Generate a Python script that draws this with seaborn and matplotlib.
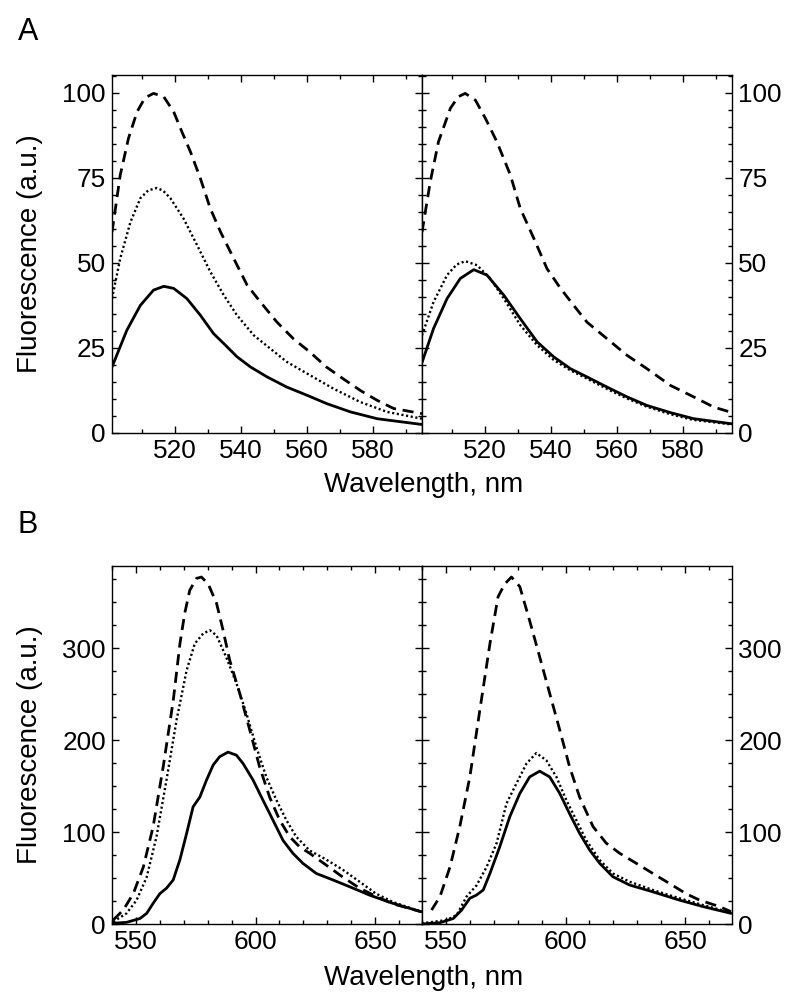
import numpy as np
import pandas as pd
import matplotlib
matplotlib.use("Agg")
import matplotlib.pyplot as plt
import seaborn as sns
from matplotlib.ticker import MultipleLocator

# ---------------- Data ----------------
# Panel A, left
a_left_dash_x = [501, 503.5, 506, 508.6, 511, 513.6, 516.7, 519.7, 522.2, 524.8, 527.8, 530.8, 533.9, 537.9,
                 542, 546, 551, 556, 561, 566, 571, 576.3, 581.4, 586.4, 595]
a_left_dash_y = [59, 75.8, 86.6, 94.4, 98.5, 99.8, 98.8, 94.4, 88.5, 82.6, 74.8, 66, 59.1, 51.3,
                 43.4, 38.5, 32.6, 27.7, 23.8, 19.4, 16, 12.5, 9.6, 7.2, 5.7]
a_left_dot_x = [501, 503.5, 506.6, 509.6, 512, 514.6, 516.5, 518.7, 522.7, 526.8, 530.8, 534.9, 538.9, 544,
                549, 554, 561, 568.2, 576.3, 584.4, 595]
a_left_dot_y = [39.5, 51.3, 62, 69, 71.3, 72, 71.2, 69, 63, 55.2, 47.4, 40.5, 34.6, 28.7,
                24.8, 20.9, 17, 13, 9.1, 6.2, 4.2]
a_left_solid_x = [501, 505.5, 509.6, 513.6, 516.7, 519.7, 523.7, 527.8, 531.8, 535.4, 538.9, 543, 548,
                  554, 560.1, 566.2, 573.3, 581.4, 595]
a_left_solid_y = [19.4, 30.2, 37.5, 42, 43.1, 42.5, 39.5, 34.6, 29.2, 25.8, 22.4, 19.4, 16.5,
                  13.5, 11.1, 8.6, 6.2, 4.2, 2.5]

# Panel A, right
a_right_dash_x = [501, 503.5, 506, 509.6, 512, 514.1, 517.2, 520.2, 523.7, 527.8, 530.8, 534.9, 538.9, 543,
                  547, 551, 557.1, 563.2, 569.2, 576.3, 583.4, 589.5, 595]
a_right_dash_y = [59, 73.8, 85.6, 95.4, 98.8, 99.8, 97.8, 92.5, 85.6, 75.8, 66, 57.2, 48.3, 42.5,
                  37.5, 32.6, 27.7, 22.8, 18.9, 14, 10.6, 7.6, 6]
a_right_dot_x = [501, 504.5, 508.6, 511.5, 514.1, 517.7, 521.7, 525.8, 530.8, 535.9, 540.9, 546, 551,
                 557, 563, 569, 576, 583, 595]
a_right_dot_y = [28.7, 38.5, 46.4, 49.5, 50.5, 49.3, 45.4, 39.5, 31.7, 25.8, 21.5, 18.4, 16,
                 13, 10.2, 7.8, 5.6, 3.9, 2.5]
a_right_solid_x = [501, 504.5, 508.6, 512.6, 516.7, 520.7, 525.8, 530.8, 535.9, 540.9, 546, 551, 557.1,
                   563.2, 569.2, 576.3, 583.4, 595]
a_right_solid_y = [20.7, 30.7, 39.5, 45.4, 48, 46.4, 40.5, 33.6, 26.8, 22.4, 18.9, 16.5, 13.5,
                   10.6, 8.1, 6, 4.2, 2.7]

# Panel B, left
b_left_dash_x = [540.5, 544.7, 548.9, 553.1, 557.2, 561.4, 565.6, 568.4, 570.4, 572.5, 575.3, 577.4, 580.2,
                 583.7, 586.4, 589.2, 593.4, 597.6, 601.7, 605.9, 610.1, 614.3, 618.4, 622.6, 629.6,
                 636.5, 643.5, 650.4, 657.4, 669.2]
b_left_dash_y = [4.3, 15.2, 33, 62, 106, 171, 243, 305, 338, 363, 376, 377.5, 370,
                 349, 320, 287, 251, 211, 171, 138, 113, 95, 84, 77, 64,
                 51, 39, 30, 22, 13.4]
b_left_dot_x = [540.5, 546.1, 550.3, 554.5, 558.6, 562.8, 567, 571.2, 574.6, 578.1, 580.9, 583.7, 587.8,
                592, 596.2, 600.3, 604.5, 608.7, 612.9, 617, 622.6, 629.6, 636.5, 643.5, 650.4,
                657.4, 669.2]
b_left_dot_y = [2.5, 11.6, 26, 51, 95, 157, 222, 276, 305, 316, 319.6, 314, 290,
                262, 229, 193, 160, 135, 113, 95, 80, 70, 59, 46, 33,
                24, 13.4]
b_left_solid_x = [539.8, 546.1, 551.7, 554.5, 557.2, 560, 562.8, 565.6, 568.4, 571.2, 573.9, 576.7, 579.5,
                  582.3, 585, 588.5, 592, 594.8, 599, 603.1, 607.3, 611.5, 615.6, 619.8, 625.4,
                  632.3, 639.3, 647.6, 657.4, 669.2]
b_left_solid_y = [0.7, 1.8, 6, 11.6, 22.5, 33, 39, 48, 70, 98.6, 127.5, 138, 156.5,
                  173, 182, 187, 183.7, 174.6, 156.5, 134.8, 113, 91, 77, 66, 55,
                  48, 40.6, 31.5, 22.5, 13.4]

# Panel B, right
b_right_dash_x = [544, 547.5, 551.7, 555.8, 560, 564.2, 568.4, 571.8, 574.6, 577.4, 580.9, 585, 589.2,
                  593.4, 597.6, 601.7, 605.9, 611.5, 617, 622.6, 629.6, 636.5, 643.5, 650.4, 656,
                  664.3, 669.2]
b_right_dash_y = [15.2, 29.7, 62, 106, 160, 233, 305, 356, 370, 377.5, 367, 330, 290.6,
                  250.7, 211, 171, 138, 106, 88, 77, 66, 55, 44, 33, 26,
                  19, 13.4]
b_right_dot_x = [539.8, 550.3, 554.5, 558.6, 562.8, 567, 571.2, 575.3, 579.5, 583.7, 587.8, 592, 596.2,
                 600.3, 604.5, 608.7, 614.3, 619.8, 626.8, 636.5, 647.6, 657.4, 669.2]
b_right_dot_y = [0.7, 4.3, 9.8, 29.7, 42, 62, 88, 131, 153, 174.6, 186, 178, 160,
                 135, 113, 91, 69.6, 55, 46, 37, 28, 20.7, 12.3]
b_right_solid_x = [539.8, 547.5, 553.1, 556.5, 560, 562.8, 565.6, 568.4, 572.5, 576.7, 580.9, 585, 589.2,
                   593.4, 597.6, 601.7, 605.9, 610.1, 614.3, 619.8, 626.8, 636.5, 647.6, 657.4, 669.2]
b_right_solid_y = [0, 1.4, 6, 15, 28, 31.5, 37, 55, 84, 116.7, 142, 160, 166.3,
                   160, 142, 120, 98.6, 80.4, 66, 51.4, 42.4, 35, 26, 19, 11.6]

a_yticks = [0, 25, 50, 75, 100]
a_xticks = [520, 540, 560, 580]
b_yticks = [0, 100, 200, 300]
b_xticks = [550, 600, 650]

# ---------------- Style ----------------
sns.set_style("ticks")
plt.rcParams['font.family'] = ['Liberation Sans', 'DejaVu Sans']
plt.rcParams['axes.linewidth'] = 1.0
plt.rcParams['text.color'] = 'black'
plt.rcParams['axes.labelcolor'] = 'black'
plt.rcParams['xtick.color'] = 'black'
plt.rcParams['ytick.color'] = 'black'

fig = plt.figure(figsize=(8.0, 10.01), dpi=100)
W, H = 800.0, 1001.0


def rect(x0, y0, x1, y1):
    return [x0 / W, 1 - y1 / H, (x1 - x0) / W, (y1 - y0) / H]


ax_al = fig.add_axes(rect(112, 75, 422, 433))
ax_ar = fig.add_axes(rect(422, 75, 732, 433))
ax_bl = fig.add_axes(rect(112, 566, 422, 924))
ax_br = fig.add_axes(rect(422, 566, 732, 924))

LW = 2.0
dash_style = dict(color='black', lw=LW, dashes=(4.0, 2.4))
dot_style = dict(color='black', lw=1.7, dashes=(0.9, 1.1))
solid_style = dict(color='black', lw=LW)


def draw(ax, dx, dy, ox, oy, sx, sy):
    sns.lineplot(x=dx, y=dy, ax=ax, estimator=None, sort=False, **dash_style)
    sns.lineplot(x=ox, y=oy, ax=ax, estimator=None, sort=False, **dot_style)
    sns.lineplot(x=sx, y=sy, ax=ax, estimator=None, sort=False, **solid_style)


draw(ax_al, a_left_dash_x, a_left_dash_y, a_left_dot_x, a_left_dot_y, a_left_solid_x, a_left_solid_y)
draw(ax_ar, a_right_dash_x, a_right_dash_y, a_right_dot_x, a_right_dot_y, a_right_solid_x, a_right_solid_y)
draw(ax_bl, b_left_dash_x, b_left_dash_y, b_left_dot_x, b_left_dot_y, b_left_solid_x, b_left_solid_y)
draw(ax_br, b_right_dash_x, b_right_dash_y, b_right_dot_x, b_right_dot_y, b_right_solid_x, b_right_solid_y)

FS = 18.8
LFS = 20
for ax, xl, yl, xt, yt, xminor, yminor in [
    (ax_al, (501, 595), (0, 105.2), a_xticks, a_yticks, 10, 5),
    (ax_ar, (501, 595), (0, 105.2), a_xticks, a_yticks, 10, 5),
    (ax_bl, (540, 669.6), (0, 389.5), b_xticks, b_yticks, 10, 25),
    (ax_br, (540, 669.6), (0, 389.5), b_xticks, b_yticks, 10, 25),
]:
    ax.set_xlim(*xl)
    ax.set_ylim(*yl)
    ax.set_xticks(xt)
    ax.set_yticks(yt)
    ax.xaxis.set_minor_locator(MultipleLocator(xminor))
    ax.yaxis.set_minor_locator(MultipleLocator(yminor))
    ax.set_xlabel("")
    ax.set_ylabel("")
    for s in ax.spines.values():
        s.set_visible(True)
        s.set_linewidth(1.0)
        s.set_color('black')
    ax.tick_params(which='both', direction='in', top=True, right=True, left=True, bottom=True,
                   colors='black', width=1.0)
    ax.tick_params(which='major', length=5, labelsize=FS, pad=4.5, labelcolor='black')
    ax.tick_params(which='minor', length=3)

for ax in (ax_ar, ax_br):
    ax.tick_params(labelleft=False, labelright=True)

# Labels
fig.text(18 / W, 1 - 17 / H, "A", fontsize=22, ha='left', va='top', color='black')
fig.text(18 / W, 1 - 510 / H, "B", fontsize=22, ha='left', va='top', color='black')
fig.text(424 / W, 1 - 492 / H, "Wavelength, nm", fontsize=LFS, ha='center', va='baseline', color='black')
fig.text(424 / W, 1 - 985 / H, "Wavelength, nm", fontsize=LFS, ha='center', va='baseline', color='black')
fig.text(30 / W, 1 - 254 / H, "Fluorescence (a.u.)", fontsize=LFS, ha='center', va='center',
         rotation=90, color='black')
fig.text(30 / W, 1 - 745 / H, "Fluorescence (a.u.)", fontsize=LFS, ha='center', va='center',
         rotation=90, color='black')

fig.savefig("out.png", dpi=100)
